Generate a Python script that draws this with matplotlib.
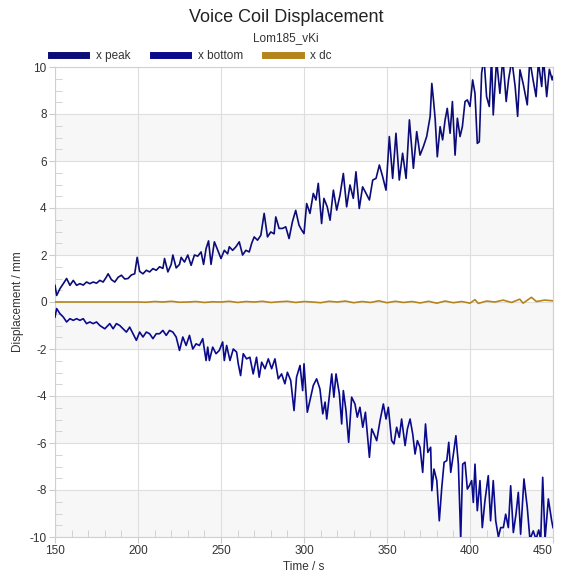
import matplotlib
matplotlib.use("Agg")
import matplotlib.pyplot as plt
from matplotlib.ticker import MultipleLocator

plt.rcParams['font.family'] = ['Liberation Sans', 'DejaVu Sans']

# ---------------- data ----------------
peak_t = [150, 151, 153, 155, 157, 159, 161, 163, 165, 167, 169, 171, 173, 175, 177, 179,
          181, 182, 184, 186, 188, 190, 192, 194, 196, 198, 199.5, 201, 203, 205, 207, 209,
          211, 213, 215, 216, 218, 220, 221, 223, 225, 226, 228, 230, 232, 234, 236, 238,
          239.5, 241, 242.5, 244, 246, 247.5, 250, 252, 254, 255, 257, 259, 261, 263, 265,
          267, 268.5, 270, 272, 274, 276, 278, 280, 282, 283, 285, 287, 289, 291, 293, 295,
          297, 298.6, 300, 301.6, 303.6, 305.6, 307.2, 308.6, 310.6, 312, 314, 315.7, 317.7,
          319.7, 321.7, 323.7, 325.7, 327.7, 329.7, 331.3, 333.3, 335.3, 337.4, 339.4, 341.4,
          343.4, 345.4, 347.4, 349.4, 351.4, 353.4, 355.4, 357.4, 359.4, 361.5, 363.5, 365.9,
          367.9, 369.9, 371.9, 373.9, 376, 377, 378, 379, 380.3, 382, 383.5, 385, 386.3, 388,
          389.4, 391, 392.4, 394, 395.4, 397, 398.4, 400, 401.6, 403, 404.4, 405.6, 407, 408.4,
          410, 411.6, 413, 414, 416, 418, 419.8, 421.8, 423.2, 425.2, 427.2, 428.7, 430.1, 432,
          434.5, 436, 438, 439.8, 441.2, 443.2, 444.2, 446.2, 447.8, 449.5, 450]
peak_v = [0.71, 0.28, 0.57, 0.78, 1.0, 0.71, 0.92, 0.71, 0.78, 0.72, 0.85, 0.78, 0.85, 0.80, 0.92, 0.85,
          1.07, 1.2, 0.95, 0.85, 1.05, 1.14, 0.98, 1.0, 1.15, 1.2, 1.9, 1.3, 1.2, 1.35, 1.28, 1.42,
          1.35, 1.5, 1.43, 1.85, 1.28, 1.6, 2.0, 1.45, 1.6, 1.9, 1.7, 2.0, 1.56, 2.0, 1.95, 2.13,
          1.6, 2.27, 2.6, 1.6, 2.56, 2.3, 1.85, 2.2, 2.05, 2.35, 2.2, 2.35, 2.56, 2.0, 2.2,
          2.13, 2.5, 2.77, 2.63, 2.84, 3.77, 2.77, 2.98, 2.9, 3.62, 3.13, 3.13, 3.2, 2.7, 3.41, 3.9,
          3.27, 3.06, 2.91, 4.19, 3.77, 4.62, 4.34, 5.05, 3.34, 4.41, 4.05, 3.48, 4.76,
          3.91, 4.55, 5.47, 4.05, 4.98, 4.41, 5.54, 3.98, 4.9, 4.62, 4.34, 5.19,
          5.26, 5.83, 5.33, 4.76, 7.04, 5.26, 7.18, 5.19, 6.33, 5.26, 7.75, 5.69,
          7.25, 6.25, 6.61, 7.04, 7.9, 9.3, 8.6, 7.8, 6.18, 7.46, 6.9, 7.75, 8.24, 7.18,
          8.53, 6.25, 7.82, 7.04, 7.46, 8.53, 8.6, 8.32, 9.45, 8.88, 6.75, 6.82, 9.74, 10.4,
          8.74, 8.32, 10.4, 7.96, 10.3, 8.88, 10.4, 8.53, 9.45, 10.3, 9.17, 7.9, 9.88, 9.3,
          8.39, 10.3, 9.45, 8.74, 10.2, 9.17, 10.4, 8.74, 9.9, 9.45, 9.6]

bottom_t = [150, 151, 153, 155, 157, 159, 161, 163, 165, 167, 169, 171, 173, 175, 177, 180,
            183, 185, 187, 189, 191, 193, 195, 197, 199, 201, 203, 205, 207, 209, 211, 213,
            215, 217, 219, 221, 223, 225, 227, 229, 231, 233, 235, 237, 239, 241, 242, 243,
            245, 247, 249, 251, 252, 253.4, 255.4, 257.4, 259.4, 260.4, 261.8, 263.4, 265.4,
            267.4, 269.4, 271.4, 273, 274.5, 276.5, 278.5, 280.5, 282.5, 284.5, 286.5, 288.5,
            290, 292, 294, 295.5, 297.6, 299.2, 300, 302, 303.6, 305.6, 307.6, 309.6, 311.3,
            312.7, 313.7, 315.3, 316.7, 318, 319.3, 321.3, 322.7, 323.7, 325.3, 326.9, 328.7,
            330.7, 332.1, 333.7, 335.4, 337, 339.4, 340.8, 342.2, 343.8, 345.8, 347.8, 349.4,
            350.8, 352.8, 354.2, 355.8, 357.4, 358.8, 360.9, 362.3, 363.9, 365.5, 366.9, 368.3,
            369.9, 371.5, 373.2, 374.6, 376.3, 377, 378.3, 380, 381.5, 383, 384.4, 386, 387.2,
            388.4, 390, 391.5, 393, 394.4, 395.6, 397, 398.4, 399.6, 401, 402, 403, 404.4, 406,
            407.4, 409, 411, 412.4, 414, 415.5, 417.1, 418.5, 420.1, 421.5, 423.1, 424.5, 426.1,
            427.7, 429.1, 430.5, 432.5, 434.5, 436.1, 438.1, 439.8, 441.4, 442.6, 443.8, 445.2,
            447.2, 449.2, 450]
bottom_v = [-0.64, -0.28, -0.5, -0.64, -0.85, -0.71, -0.78, -0.71, -0.78, -0.71, -0.92, -0.85, -0.92, -0.85, -1.0, -1.14,
            -0.92, -1.14, -0.92, -1.0, -1.14, -1.28, -1.07, -1.35, -1.63, -1.28, -1.49, -1.28, -1.35, -1.56, -1.35, -1.35,
            -1.21, -1.42, -1.21, -1.28, -1.49, -2.06, -1.49, -1.85, -1.42, -2.0, -1.78, -1.85, -1.56, -2.49, -1.92, -2.49,
            -1.92, -2.2, -2.06, -1.7, -2.49, -1.85, -2.49, -2.0, -2.13, -2.63, -3.13, -2.2, -2.42,
            -2.35, -3.06, -2.35, -3.2, -2.56, -2.84, -2.42, -2.84, -2.42, -3.27, -3.06, -3.48,
            -2.99, -3.34, -4.62, -3.2, -2.7, -3.77, -2.63, -4.69, -4.19, -3.55, -3.27, -3.7, -4.76,
            -4.26, -4.98, -3.98, -3.06, -4.05, -3.06, -3.91, -5.19, -3.77, -4.62, -5.97, -4.05,
            -4.34, -4.9, -4.48, -5.33, -4.69, -6.61, -5.4, -5.62, -5.9, -5.05, -4.34, -4.98,
            -4.48, -5.9, -6.04, -5.33, -5.76, -4.98, -6.11, -5.4, -4.98, -5.62, -6.47, -5.9,
            -6.18, -7.25, -5.19, -6.4, -6.18, -8.03, -7.11, -7.6, -9.31, -7.89, -6.82, -6.75, -5.97,
            -7.25, -6.47, -5.69, -6.9, -10.1, -6.9, -6.82, -7.96, -7.82, -7.6, -8.53, -6.9, -8.88, -7.6,
            -9.6, -8.46, -7.39, -9.31, -7.6, -9.31, -10.0, -9.6, -9.6, -9.03, -9.6, -7.82, -9.81,
            -9.03, -8.1, -9.88, -7.53, -8.74, -10.1, -9.74, -10.1, -9.7, -10.1, -7.46, -10.1,
            -8.38, -9.31, -9.6]

dc_t = [150, 160, 170, 180, 190, 200, 205, 210, 215, 220, 225, 230, 235, 240, 245, 250, 255,
        260, 265, 270, 275, 280, 285, 290, 295, 300, 305, 310, 315, 320, 325, 330, 335, 340,
        345, 350, 355, 360, 365, 370, 375, 380, 385, 390, 395, 400, 403, 405, 410, 415, 420,
        425, 430, 432, 437, 440, 445, 450]
dc_v = [0.0, 0.0, 0.0, 0.0, 0.0, 0.0, -0.01, 0.02, 0.0, 0.03, -0.01, 0.0, 0.02, -0.02, 0.01, 0.0, 0.03,
        -0.02, 0.02, 0.0, 0.03, -0.02, 0.01, 0.03, -0.02, 0.02, 0.0, -0.03, 0.03, 0.0, 0.04, -0.03, 0.02, -0.02,
        0.05, -0.03, 0.03, -0.02, 0.02, -0.04, 0.03, -0.05, 0.04, -0.03, 0.02, -0.05, 0.1, -0.06, 0.04, 0.0, 0.08,
        -0.02, 0.12, -0.05, 0.2, 0.02, 0.08, 0.05]

x_ticks = [150, 200, 250, 300, 350, 400, 450]
y_ticks = [-10, -8, -6, -4, -2, 0, 2, 4, 6, 8, 10]

series_names = ["x peak", "x bottom", "x dc"]
series_colors = ["#0c0c78", "#0a0a8c", "#b5841c"]

title = "Voice Coil Displacement"
subtitle = "Lom185_vKi"
x_label = "Time / s"
y_label = "Displacement / mm"

# ---------------- figure ----------------
W, H = 561, 572
fig = plt.figure(figsize=(W / 100, H / 100), dpi=100)
ax = fig.add_axes([55 / W, 1 - 537 / H, (553 - 55) / W, (537 - 67) / H])

ax.set_xlim(150, 450)
ax.set_ylim(-10, 10)

# alternating bands
for lo in range(-10, 10, 4):
    ax.axhspan(lo, lo + 2, color="#f7f7f7", zorder=0, lw=0)

ax.set_xticks(x_ticks, [str(v) for v in x_ticks])
ax.set_yticks(y_ticks, [str(v) for v in y_ticks])
ax.xaxis.set_minor_locator(MultipleLocator(10))
ax.yaxis.set_minor_locator(MultipleLocator(0.5))
ax.grid(True, which="major", color="#dedede", lw=0.8, zorder=1)
ax.set_axisbelow(True)

ax.tick_params(axis="both", which="major", length=4, color="#cccccc", labelsize=8.5,
               labelcolor="#333333", pad=2)
ax.tick_params(axis="both", which="minor", direction="in", length=5, color="#cccccc")
for s in ax.spines.values():
    s.set_color("#d0d0d0")
    s.set_linewidth(0.8)

# keep the last x tick label inside the figure
ax.get_xticklabels()[-1].set_horizontalalignment("right")

lp, = ax.plot(peak_t, peak_v, color=series_colors[0], lw=1.2, zorder=3)
lb, = ax.plot(bottom_t, bottom_v, color=series_colors[1], lw=1.2, zorder=3)
ld, = ax.plot(dc_t, dc_v, color=series_colors[2], lw=1.2, zorder=3)

ax.set_xlabel(x_label, fontsize=8.5, color="#333333", labelpad=3)
ax.set_ylabel(y_label, fontsize=8.5, color="#333333", labelpad=4)

fig.text(0.5 + 0.01, 1 - 18 / H, title, ha="center", va="center", fontsize=13, color="#222222")
fig.text(0.5 + 0.01, 1 - 38 / H, subtitle, ha="center", va="center", fontsize=8.5, color="#333333")

leg = fig.legend([lp, lb, ld], series_names, loc="center left",
                 bbox_to_anchor=(51 / W, 1 - 56 / H), ncol=3, frameon=False,
                 fontsize=8.5, handlelength=3.0, handletextpad=0.8, columnspacing=1.9,
                 borderaxespad=0, borderpad=0)
for h in leg.legend_handles:
    h.set_linewidth(5)
for t in leg.get_texts():
    t.set_color("#333333")

fig.savefig("out.png", dpi=100)
